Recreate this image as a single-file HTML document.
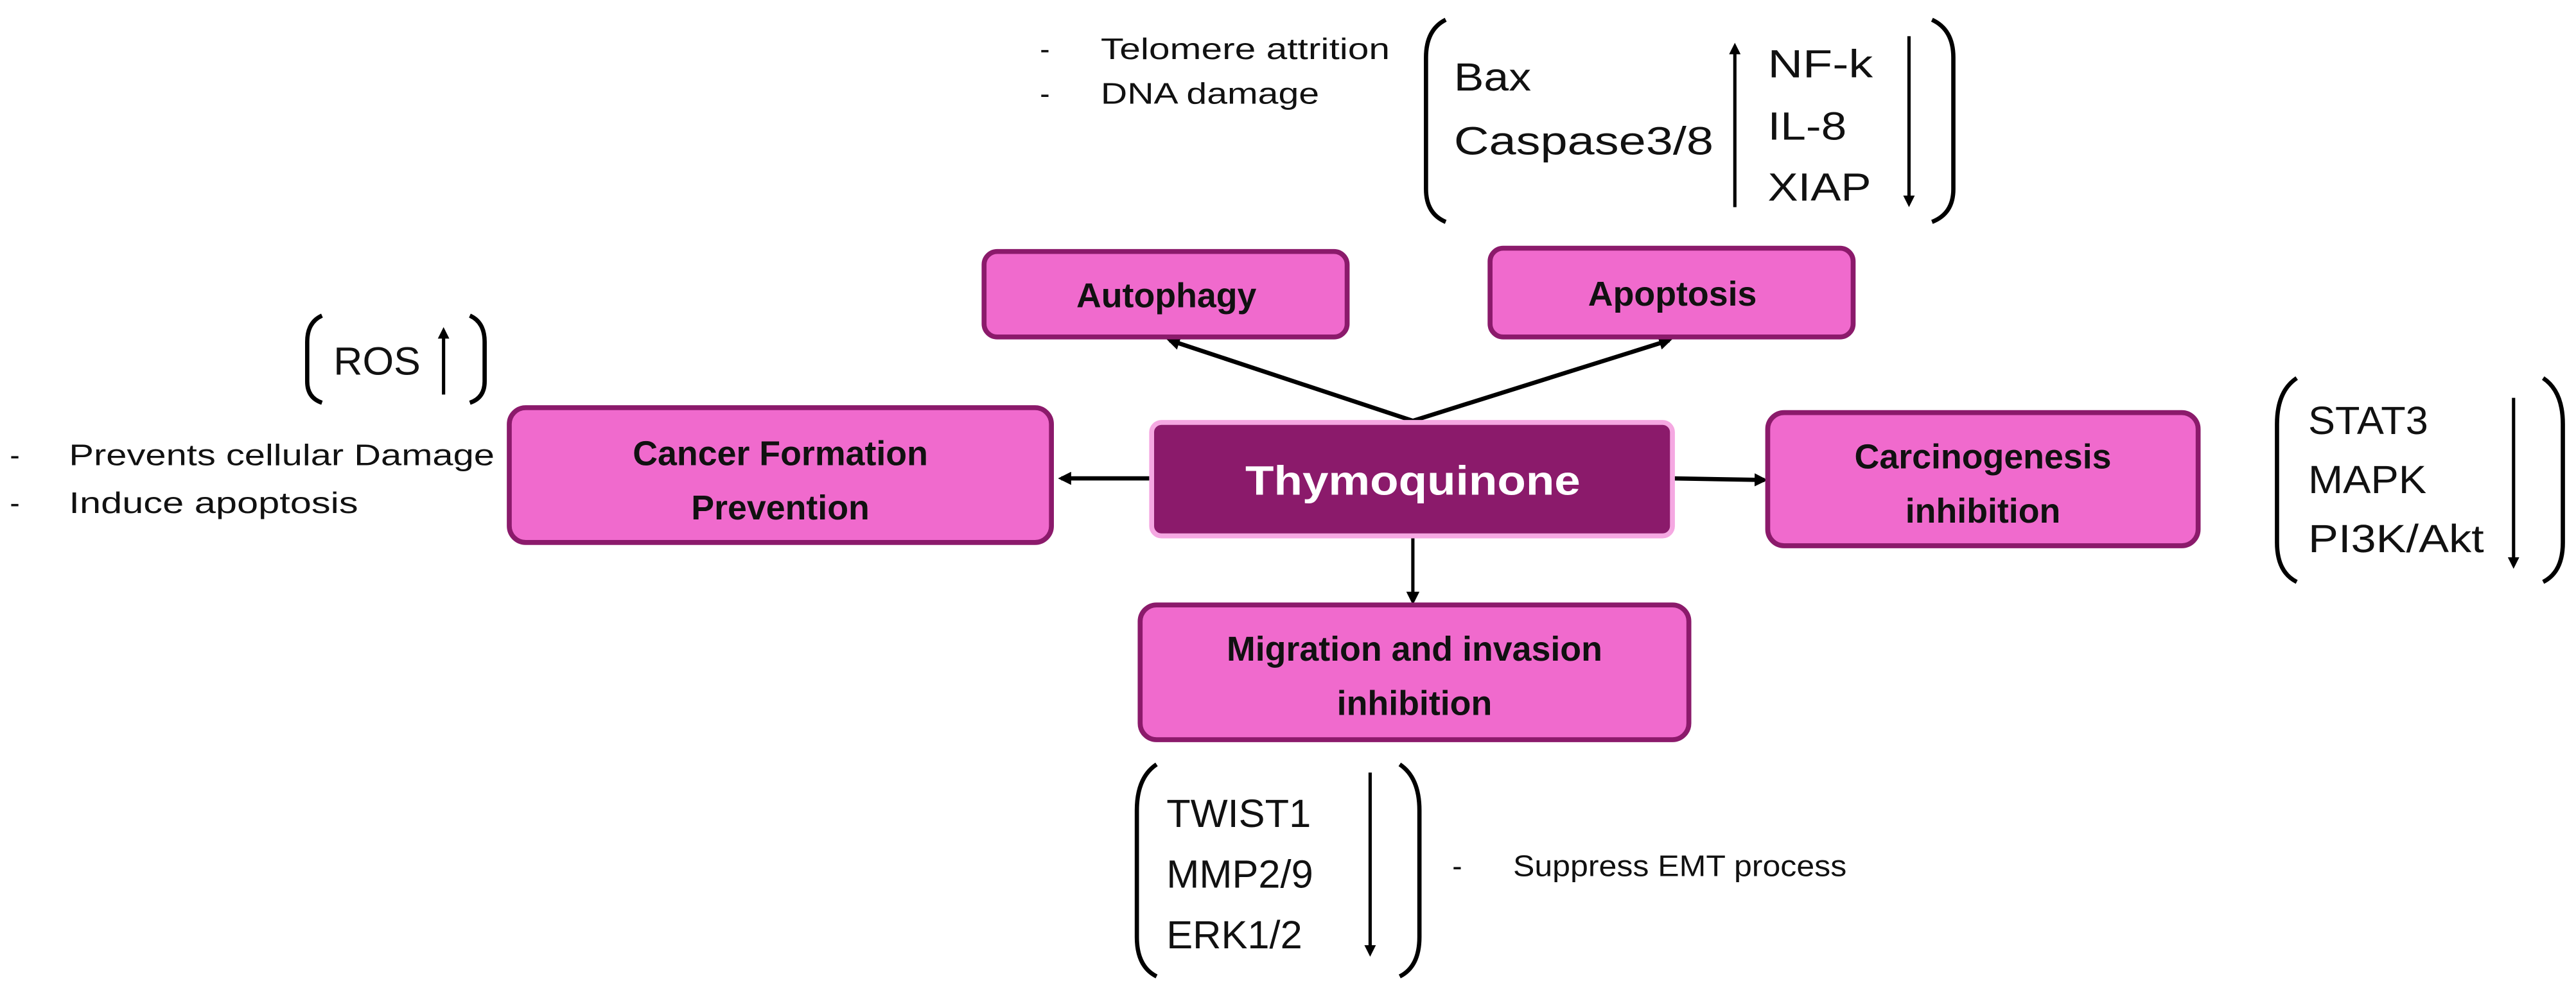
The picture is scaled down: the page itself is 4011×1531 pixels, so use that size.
<!DOCTYPE html>
<html><head><meta charset="utf-8"><style>
html,body{margin:0;padding:0;background:#fff;}
svg{display:block;}
text{font-family:"Liberation Sans",sans-serif;}
</style></head><body>
<svg width="4011" height="1531" viewBox="0 0 1568 598" preserveAspectRatio="none" xmlns="http://www.w3.org/2000/svg">
<defs>
<marker id="ah" markerWidth="8" markerHeight="8" refX="6" refY="4" orient="auto" markerUnits="userSpaceOnUse"><path d="M0,0 L8,4 L0,8 z" fill="#000"/></marker>
<marker id="as" markerWidth="7" markerHeight="7" refX="5" refY="3.5" orient="auto" markerUnits="userSpaceOnUse"><path d="M0,0 L7,3.5 L0,7 z" fill="#000"/></marker>
</defs>
<rect width="1568" height="598" fill="#fff"/>
<g stroke="#000" stroke-width="2.6" fill="none">
<line x1="860" y1="256" x2="712" y2="207" marker-end="url(#ah)"/>
<line x1="860" y1="256" x2="1016" y2="207" marker-end="url(#ah)"/>
<line x1="700" y1="291" x2="646" y2="291" marker-end="url(#ah)"/>
<line x1="1018" y1="291" x2="1074" y2="292" marker-end="url(#ah)"/>
<line x1="860" y1="326" x2="860" y2="366" stroke-width="2" marker-end="url(#ah)"/>
</g>
<g stroke="#8B1A6B" stroke-width="3" fill="#F06ACD">
<rect x="599" y="153" width="221" height="52" rx="8"/>
<rect x="907" y="151" width="221" height="54" rx="8"/>
<rect x="310" y="248" width="330" height="82" rx="10"/>
<rect x="1076" y="251" width="262" height="81" rx="10"/>
<rect x="694" y="368" width="334" height="82" rx="10"/>
</g>
<rect x="701" y="257" width="317" height="69" rx="6" fill="#8B1A6B" stroke="#F5A8E2" stroke-width="3"/>
<g font-weight="bold" font-size="21" text-anchor="middle" fill="#111">
<text x="710" y="187">Autophagy</text>
<text x="1018" y="186">Apoptosis</text>
<text x="475" y="283">Cancer Formation</text>
<text x="475" y="316">Prevention</text>
<text x="1207" y="285">Carcinogenesis</text>
<text x="1207" y="318">inhibition</text>
<text x="861" y="402">Migration and invasion</text>
<text x="861" y="435">inhibition</text>
<text x="860" y="301" fill="#fff" font-size="25" textLength="204" lengthAdjust="spacingAndGlyphs">Thymoquinone</text>
</g>
<g font-size="18" fill="#111">
<text x="633" y="36">-</text><text x="670" y="36" textLength="176" lengthAdjust="spacingAndGlyphs">Telomere attrition</text>
<text x="633" y="63">-</text><text x="670" y="63" textLength="133" lengthAdjust="spacingAndGlyphs">DNA damage</text>
<text x="6" y="283">-</text><text x="42" y="283" textLength="259" lengthAdjust="spacingAndGlyphs">Prevents cellular Damage</text>
<text x="6" y="312">-</text><text x="42" y="312" textLength="176" lengthAdjust="spacingAndGlyphs">Induce apoptosis</text>
<text x="884" y="533">-</text><text x="921" y="533" textLength="203" lengthAdjust="spacingAndGlyphs">Suppress EMT process</text>
</g>
<g stroke="#000" stroke-width="2.6" fill="none">
<path d="M880,12 Q868,18 868,35 L868,115 Q868,130 880,135"/>
<path d="M1176,12 Q1189,18 1189,35 L1189,115 Q1189,130 1176,135"/>
<path d="M196,192 Q187,196 187,208 L187,232 Q187,242 196,245"/>
<path d="M286,192 Q295,196 295,208 L295,232 Q295,242 286,245"/>
<path d="M1398,230 Q1386,238 1386,258 L1386,330 Q1386,348 1398,354"/>
<path d="M1548,230 Q1560,238 1560,258 L1560,330 Q1560,348 1548,354"/>
<path d="M704,465 Q692,473 692,493 L692,570 Q692,588 704,594"/>
<path d="M852,465 Q864,473 864,493 L864,570 Q864,588 852,594"/>
</g>
<g stroke="#000" stroke-width="2" fill="none">
<line x1="1056" y1="126" x2="1056" y2="28" marker-end="url(#as)"/>
<line x1="1162" y1="22" x2="1162" y2="124" marker-end="url(#as)"/>
<line x1="270" y1="240" x2="270" y2="201" marker-end="url(#as)"/>
<line x1="1530" y1="242" x2="1530" y2="344" marker-end="url(#as)"/>
<line x1="834" y1="470" x2="834" y2="580" marker-end="url(#as)"/>
</g>
<g font-size="24" fill="#111">
<text x="885" y="55" textLength="47" lengthAdjust="spacingAndGlyphs">Bax</text>
<text x="885" y="94" textLength="158" lengthAdjust="spacingAndGlyphs">Caspase3/8</text>
<text x="1076" y="47" textLength="64" lengthAdjust="spacingAndGlyphs">NF-k</text>
<text x="1076" y="85" textLength="48" lengthAdjust="spacingAndGlyphs">IL-8</text>
<text x="1076" y="122" textLength="63" lengthAdjust="spacingAndGlyphs">XIAP</text>
<text x="203" y="228" textLength="53" lengthAdjust="spacingAndGlyphs">ROS</text>
<text x="1405" y="264" textLength="73" lengthAdjust="spacingAndGlyphs">STAT3</text>
<text x="1405" y="300" textLength="72" lengthAdjust="spacingAndGlyphs">MAPK</text>
<text x="1405" y="336" textLength="107" lengthAdjust="spacingAndGlyphs">PI3K/Akt</text>
<text x="710" y="503">TWIST1</text>
<text x="710" y="540">MMP2/9</text>
<text x="710" y="577">ERK1/2</text>
</g>
</svg>
</body></html>
